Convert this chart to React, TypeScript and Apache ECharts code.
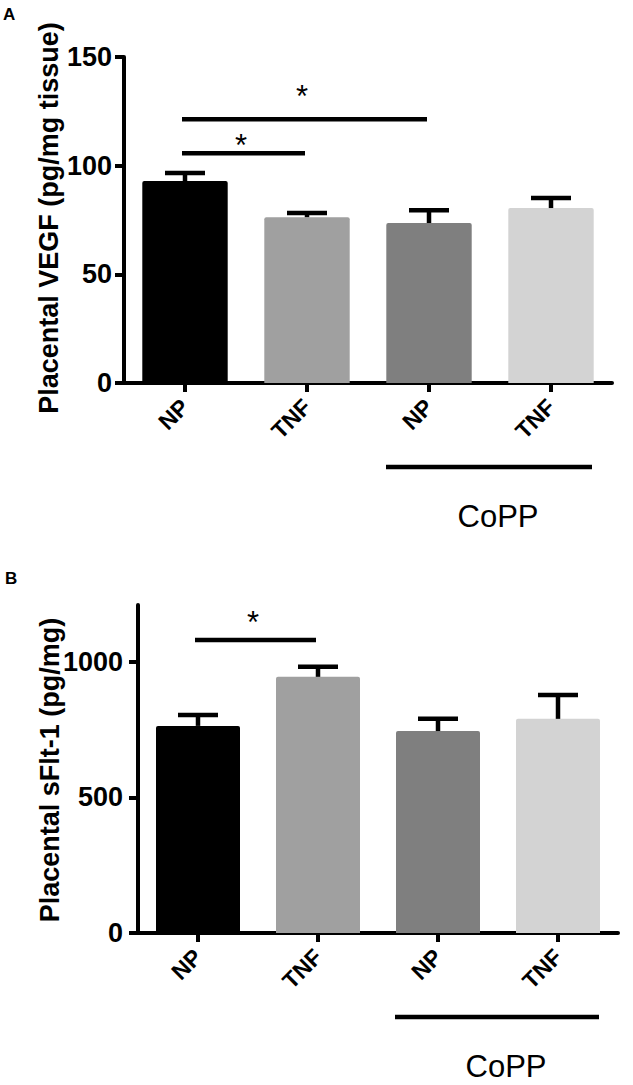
import React, { useEffect, useRef } from "react";
import * as echarts from "echarts";

// ---------- data ----------
const categories = ["NP", "TNF", "NP", "TNF"];
const barColors = ["#000000", "#a0a0a0", "#7f7f7f", "#d3d3d3"];

const vegfMean = [92.9, 76.3, 73.6, 80.5];
const vegfSem = [3.7, 1.9, 5.9, 4.6];
const vegfTicks = [0, 50, 100, 150];

const sfltMean = [764, 945, 745, 790];
const sfltSem = [40, 37, 45, 88];
const sfltTicks = [0, 500, 1000];

// [fromIndex, toIndex, lineValue, starValue]
const vegfSig = [
  [0, 1, 105.7, 112.6],
  [0, 2, 121.4, 135.2],
];
const sfltSig = [[0, 1, 1081, 1170]];

const groupLabel = "CoPP";
const groupRange = [2, 3];

const vegfTitle = "Placental VEGF (pg/mg tissue)";
const sfltTitle = "Placental sFlt-1 (pg/mg)";

// ---------- styles ----------
const FONT = 'Arial, "Liberation Sans", Helvetica, sans-serif';
const BLACK = "#000000";

function yAxisCfg(gridIndex: number, max: number, ticks: number[], labelMargin: number) {
  return {
    type: "value",
    gridIndex,
    min: 0,
    max,
    axisLine: { show: true, lineStyle: { color: BLACK, width: 4 } },
    axisTick: { show: true, length: 9, lineStyle: { color: BLACK, width: 4 }, customValues: ticks },
    axisLabel: {
      fontSize: 27,
      fontWeight: "bold",
      color: BLACK,
      fontFamily: FONT,
      margin: labelMargin,
      customValues: ticks,
      formatter: (v: number) => String(v),
    },
    splitLine: { show: false },
  };
}

function xAxisCfg(gridIndex: number) {
  return {
    type: "category",
    gridIndex,
    data: categories,
    axisLine: { show: true, lineStyle: { color: BLACK, width: 4 } },
    axisTick: { show: true, alignWithLabel: true, length: 9, lineStyle: { color: BLACK, width: 4 } },
    axisLabel: {
      rotate: 45,
      interval: 0,
      fontSize: 23,
      fontWeight: "bold",
      color: BLACK,
      fontFamily: FONT,
      margin: 20,
    },
    splitLine: { show: false },
  };
}

function barSeries(idx: number, means: number[]) {
  return {
    type: "bar",
    xAxisIndex: idx,
    yAxisIndex: idx,
    barWidth: "70%",
    z: 2,
    data: means.map((v, i) => ({ value: v, itemStyle: { color: barColors[i], borderRadius: [2, 2, 0, 0] } })),
  };
}

function errorSeries(idx: number, means: number[], sems: number[]) {
  return {
    type: "custom",
    xAxisIndex: idx,
    yAxisIndex: idx,
    z: 3,
    clip: false,
    encode: { x: 0, y: [1, 2] },
    data: means.map((m, i) => [i, m, m + sems[i]]),
    renderItem: (_p: any, api: any) => {
      const i = api.value(0);
      const p0 = api.coord([i, api.value(1)]);
      const p1 = api.coord([i, api.value(2)]);
      const hw = 20;
      return {
        type: "group",
        children: [
          { type: "line", shape: { x1: p0[0], y1: p0[1], x2: p1[0], y2: p1[1] }, style: { stroke: BLACK, lineWidth: 4.5 } },
          { type: "line", shape: { x1: p1[0] - hw, y1: p1[1], x2: p1[0] + hw, y2: p1[1] }, style: { stroke: BLACK, lineWidth: 4.5 } },
        ],
      };
    },
  };
}

function sigSeries(idx: number, sig: number[][]) {
  return {
    type: "custom",
    xAxisIndex: idx,
    yAxisIndex: idx,
    z: 4,
    clip: false,
    encode: { x: [0, 1], y: [2, 3] },
    data: sig,
    renderItem: (_p: any, api: any) => {
      const a = api.coord([api.value(0), api.value(2)]);
      const b = api.coord([api.value(1), api.value(2)]);
      const s = api.coord([api.value(0), api.value(3)]);
      return {
        type: "group",
        children: [
          { type: "line", shape: { x1: a[0] - 3, y1: a[1], x2: b[0] - 2, y2: b[1] }, style: { stroke: BLACK, lineWidth: 4.5 } },
          {
            type: "text",
            x: (a[0] + b[0]) / 2 - 5,
            y: s[1] + 7,
            style: { text: "*", fontSize: 31, fontFamily: FONT, fill: BLACK, align: "center", verticalAlign: "middle" },
          },
        ],
      };
    },
  };
}

function groupSeries(idx: number) {
  return {
    type: "custom",
    xAxisIndex: idx,
    yAxisIndex: idx,
    z: 4,
    clip: false,
    encode: { x: [0, 1], y: 2 },
    data: [[groupRange[0], groupRange[1], 0]],
    renderItem: (_p: any, api: any) => {
      const a = api.coord([api.value(0), 0]);
      const b = api.coord([api.value(1), 0]);
      const y = a[1];
      return {
        type: "group",
        children: [
          { type: "line", shape: { x1: a[0] - 43, y1: y + 84, x2: b[0] + 41, y2: y + 84 }, style: { stroke: BLACK, lineWidth: 4.5 } },
          {
            type: "text",
            x: (a[0] + b[0]) / 2 + 8,
            y: y + 133,
            style: { text: groupLabel, fontSize: 31, fontFamily: FONT, fill: BLACK, align: "center", verticalAlign: "middle" },
          },
        ],
      };
    },
  };
}

function yTitle(text: string, x: number, y: number) {
  return {
    type: "text",
    x,
    y,
    rotation: Math.PI / 2,
    style: { text, font: `bold 27px ${FONT}`, fill: BLACK, align: "center", verticalAlign: "middle" },
  };
}

export default function App() {
  const ref = useRef<HTMLDivElement>(null);
  useEffect(() => {
    if (!ref.current) return;
    const chart = echarts.init(ref.current, null, { renderer: "svg" });
    chart.setOption({
      animation: false,
      backgroundColor: "#ffffff",
      textStyle: { fontFamily: FONT },
      grid: [
        { left: 124, top: 57, width: 488, height: 326, containLabel: false, outerBoundsMode: "none" },
        { left: 138, top: 605, width: 480, height: 328, containLabel: false, outerBoundsMode: "none" },
      ],
      xAxis: [xAxisCfg(0), xAxisCfg(1)],
      yAxis: [yAxisCfg(0, 150, vegfTicks, 12), yAxisCfg(1, 1210, sfltTicks, 15)],
      graphic: [
        { type: "text", left: 3, top: 6, style: { text: "A", font: `bold 17px ${FONT}`, fill: BLACK } },
        { type: "text", left: 5, top: 570, style: { text: "B", font: `bold 17px ${FONT}`, fill: BLACK } },
        yTitle(vegfTitle, 49, 218),
        yTitle(sfltTitle, 50, 770),
      ],
      series: [
        barSeries(0, vegfMean),
        errorSeries(0, vegfMean, vegfSem),
        sigSeries(0, vegfSig),
        groupSeries(0),
        barSeries(1, sfltMean),
        errorSeries(1, sfltMean, sfltSem),
        sigSeries(1, sfltSig),
        groupSeries(1),
      ],
    });
    return () => chart.dispose();
  }, []);
  return <div ref={ref} style={{ position: "absolute", left: 0, top: 0, width: 633, height: 1085 }} />;
}
